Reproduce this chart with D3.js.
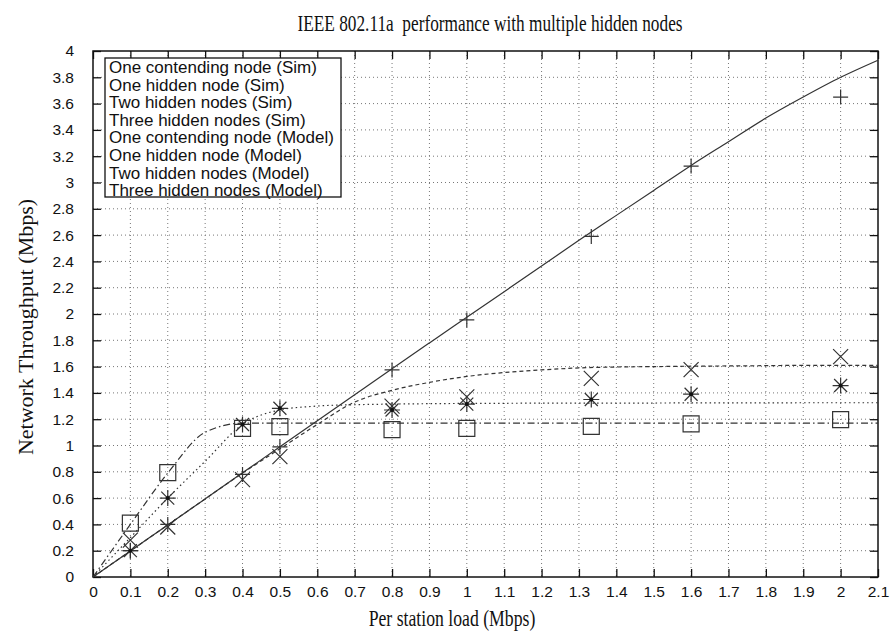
<!DOCTYPE html>
<html>
<head>
<meta charset="utf-8">
<script src="https://cdn.jsdelivr.net/npm/d3@7"></script>
<style>
  body { margin: 0; background: #fff; }
  svg { display: block; }
</style>
</head>
<body>
<svg id="chart" width="893" height="634"></svg>
<script>
// simulation load points (Mbps)
const simLoad = [0.1, 0.2, 0.4, 0.5, 0.8, 1.0, 1.333, 1.6, 2.0];
const simContending = [0.2, 0.4, 0.78, 0.99, 1.575, 1.955, 2.59, 3.125, 3.65];
const simOneHidden = [0.28, 0.38, 0.74, 0.915, 1.3, 1.37, 1.51, 1.577, 1.676];
const simTwoHidden = [0.2, 0.6, 1.16, 1.283, 1.27, 1.315, 1.35, 1.39, 1.456];
const simThreeHidden = [0.41, 0.793, 1.13, 1.143, 1.12, 1.13, 1.145, 1.165, 1.197];

// model curves, sampled every 0.1 Mbps
const modelLoad = [0, 0.1, 0.2, 0.3, 0.4, 0.5, 0.6, 0.7, 0.8, 0.9, 1.0, 1.1,
  1.2, 1.3, 1.4, 1.5, 1.6, 1.7, 1.8, 1.9, 2.0, 2.1];
const modelContending = [0, 0.198, 0.396, 0.594, 0.792, 0.99, 1.188, 1.386, 1.584,
  1.78, 1.975, 2.17, 2.365, 2.56, 2.75, 2.94, 3.13, 3.31, 3.49, 3.65, 3.8, 3.93];
const modelOneHidden = [0, 0.198, 0.396, 0.594, 0.79, 0.975, 1.16, 1.33, 1.42,
  1.48, 1.525, 1.555, 1.575, 1.59, 1.597, 1.6, 1.603, 1.605, 1.607, 1.61, 1.61, 1.61];
const modelTwoHidden = [0, 0.3, 0.6, 0.88, 1.16, 1.27, 1.3, 1.31, 1.315, 1.318,
  1.32, 1.321, 1.322, 1.322, 1.323, 1.323, 1.324, 1.324, 1.324, 1.325, 1.325, 1.325];
const modelThreeHidden = [0, 0.4, 0.79, 1.1, 1.17, 1.17, 1.17, 1.17, 1.17, 1.17,
  1.17, 1.17, 1.17, 1.17, 1.17, 1.17, 1.17, 1.17, 1.17, 1.17, 1.17, 1.17];

const xTicks = d3.range(0, 22).map(i => i / 10);
const yTicks = d3.range(0, 21).map(i => i / 5);

const legendLabels = [
  "One contending node (Sim)",
  "One hidden node (Sim)",
  "Two hidden nodes (Sim)",
  "Three hidden nodes (Sim)",
  "One contending node (Model)",
  "One hidden node (Model)",
  "Two hidden nodes (Model)",
  "Three hidden nodes (Model)"
];

const svg = d3.select("#chart");
const mLeft = 93, mTop = 51, width = 785, height = 526;
const ink = "#333";

const x = d3.scaleLinear().domain([0, 2.1]).range([mLeft, mLeft + width]);
const y = d3.scaleLinear().domain([0, 4]).range([mTop + height, mTop]);

// grid
const grid = svg.append("g")
  .attr("stroke", "#777")
  .attr("stroke-width", 1)
  .attr("stroke-dasharray", "1,3");
grid.selectAll("line.vx")
  .data(xTicks.slice(1, -1))
  .enter()
  .append("line")
  .attr("x1", d => x(d)).attr("x2", d => x(d))
  .attr("y1", mTop).attr("y2", mTop + height);
grid.selectAll("line.hy")
  .data(yTicks.slice(1, -1))
  .enter()
  .append("line")
  .attr("x1", mLeft).attr("x2", mLeft + width)
  .attr("y1", d => y(d)).attr("y2", d => y(d));

// axes with inward ticks
const fmt = d => d3.format("~g")(+d.toFixed(1));
const axB = svg.append("g")
  .attr("transform", "translate(0," + (mTop + height) + ")")
  .call(d3.axisBottom(x).tickValues(xTicks).tickFormat(fmt).tickSizeInner(-8).tickSizeOuter(0).tickPadding(9));
const axL = svg.append("g")
  .attr("transform", "translate(" + mLeft + ",0)")
  .call(d3.axisLeft(y).tickValues(yTicks).tickFormat(fmt).tickSizeInner(-8).tickSizeOuter(0).tickPadding(19));
const axT = svg.append("g")
  .attr("transform", "translate(0," + mTop + ")")
  .call(d3.axisTop(x).tickValues(xTicks).tickFormat("").tickSizeInner(-8).tickSizeOuter(0));
const axR = svg.append("g")
  .attr("transform", "translate(" + (mLeft + width) + ",0)")
  .call(d3.axisRight(y).tickValues(yTicks).tickFormat("").tickSizeInner(-8).tickSizeOuter(0));

[axB, axL, axT, axR].forEach(a => {
  a.select(".domain").remove();
  a.selectAll("line").attr("stroke", "#111").attr("stroke-width", 1.3);
  a.selectAll("text")
    .attr("font-family", "Liberation Sans, Arial, sans-serif")
    .attr("font-size", "15.5px")
    .attr("fill", "#111");
});

svg.append("rect")
  .attr("x", mLeft).attr("y", mTop)
  .attr("width", width).attr("height", height)
  .attr("fill", "none")
  .attr("stroke", "#111")
  .attr("stroke-width", 1.5);

// model lines
const models = [
  { values: modelContending, dash: null },
  { values: modelOneHidden, dash: "4,3" },
  { values: modelTwoHidden, dash: "1.5,3" },
  { values: modelThreeHidden, dash: "7,3,1.5,3" }
];
const line = d3.line()
  .x((d, i) => x(modelLoad[i]))
  .y(d => y(d))
  .curve(d3.curveMonotoneX);
svg.append("g")
  .selectAll("path")
  .data(models)
  .enter()
  .append("path")
  .attr("d", d => line(d.values))
  .attr("fill", "none")
  .attr("stroke", ink)
  .attr("stroke-width", 1.2)
  .attr("stroke-dasharray", d => d.dash);

// sim markers
const plusPath = s => `M${-s},0H${s}M0,${-s}V${s}`;
const crossPath = s => `M${-s},${-s}L${s},${s}M${-s},${s}L${s},${-s}`;
const sims = [
  { values: simContending, path: plusPath(7.5) },
  { values: simOneHidden, path: crossPath(7.5) },
  { values: simTwoHidden, path: crossPath(6.5) + plusPath(8), dot: true },
  { values: simThreeHidden, path: "M-8,-8H8V8H-8Z" }
];
sims.forEach(s => {
  const g = svg.append("g");
  g.selectAll("path")
    .data(s.values)
    .enter()
    .append("path")
    .attr("transform", (d, i) => "translate(" + x(simLoad[i]) + "," + y(d) + ")")
    .attr("d", s.path)
    .attr("fill", "none")
    .attr("stroke", ink)
    .attr("stroke-width", 1.2);
  if (s.dot) {
    g.selectAll("circle")
      .data(s.values)
      .enter()
      .append("circle")
      .attr("cx", (d, i) => x(simLoad[i]))
      .attr("cy", d => y(d))
      .attr("r", 2)
      .attr("fill", "#111");
  }
});

// legend
const lg = svg.append("g");
lg.append("rect")
  .attr("x", 105).attr("y", 58)
  .attr("width", 236).attr("height", 139)
  .attr("fill", "#fff")
  .attr("stroke", "#111")
  .attr("stroke-width", 1.3);
lg.selectAll("text")
  .data(legendLabels)
  .enter()
  .append("text")
  .attr("x", 109)
  .attr("y", (d, i) => 67 + i * 17.6)
  .attr("dy", "0.35em")
  .attr("font-family", "Liberation Sans, Arial, sans-serif")
  .attr("font-size", "17px")
  .attr("fill", "#111")
  .text(d => d);

// titles (the scanned serif text is narrow, so it is squeezed sideways)
const serif = "Liberation Serif, Times New Roman, serif";
svg.append("text")
  .attr("transform", "translate(490,31) scale(0.72,1)")
  .attr("text-anchor", "middle")
  .attr("font-family", serif)
  .attr("font-size", "24px")
  .attr("fill", "#111")
  .attr("xml:space", "preserve")
  .text("IEEE 802.11a  performance with multiple hidden nodes");
svg.append("text")
  .attr("transform", "translate(452,626) scale(0.77,1)")
  .attr("text-anchor", "middle")
  .attr("font-family", serif)
  .attr("font-size", "23px")
  .attr("fill", "#111")
  .text("Per station load (Mbps)");
svg.append("text")
  .attr("transform", "translate(33,327) rotate(-90)")
  .attr("text-anchor", "middle")
  .attr("font-family", serif)
  .attr("font-size", "22px")
  .attr("fill", "#111")
  .text("Network Throughput (Mbps)");
</script>
</body>
</html>
